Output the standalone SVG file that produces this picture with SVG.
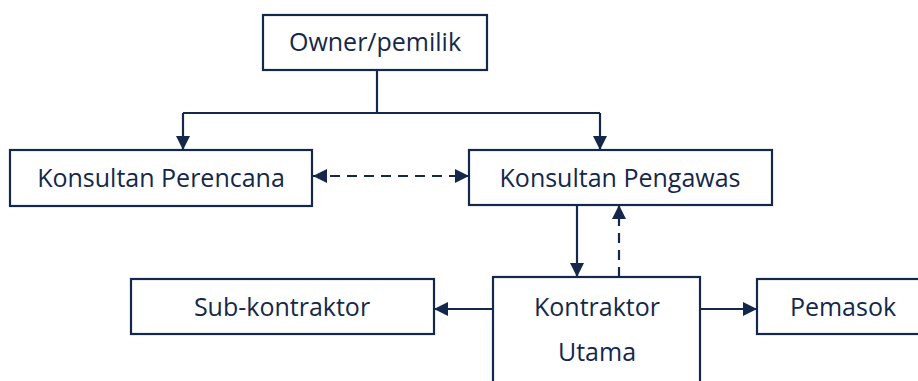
<svg xmlns="http://www.w3.org/2000/svg" width="918" height="381" viewBox="0 0 918 381">
<style>
.box{fill:#fff;stroke:#14284b;stroke-width:2.2}
.t{font-family:"Open Sans","Noto Sans",sans-serif;font-size:25px;fill:#14284b;text-anchor:middle}
.ln{stroke:#14284b;stroke-width:2.2;fill:none}
.ds{stroke-dasharray:10 7}
</style>
<defs>
<marker id="ah" viewBox="0 0 10 10" refX="10" refY="5" markerWidth="6.5" markerHeight="6.5" markerUnits="strokeWidth" orient="auto-start-reverse">
<path d="M0,0 L10,5 L0,10 Z" fill="#14284b"/>
</marker>
</defs>
<rect width="918" height="381" fill="#fff"/>
<g id="owner"><rect class="box" x="263" y="15" width="224" height="55"/><text class="t" x="375" y="51">Owner/pemilik</text></g>
<g id="perencana"><rect class="box" x="10" y="150" width="302" height="56"/><text class="t" x="161" y="187">Konsultan Perencana</text></g>
<g id="pengawas"><rect class="box" x="469" y="150" width="303" height="55"/><text class="t" x="620" y="187">Konsultan Pengawas</text></g>
<g id="subkon"><rect class="box" x="131" y="279" width="303" height="55"/><text class="t" x="282" y="316">Sub-kontraktor</text></g>
<g id="kontraktor"><rect class="box" x="493" y="277" width="207" height="110"/><text class="t" x="597" y="316">Kontraktor</text><text class="t" x="597" y="361">Utama</text></g>
<g id="pemasok"><rect class="box" x="757" y="279" width="170" height="55"/><text class="t" x="843" y="316">Pemasok</text></g>
<g id="connectors">
<path class="ln" d="M377,70 V113 M183,113 H600"/>
<path class="ln" d="M183,113 V150" marker-end="url(#ah)"/>
<path class="ln" d="M600,113 V150" marker-end="url(#ah)"/>
<path class="ln ds" d="M313,176 H469" marker-start="url(#ah)" marker-end="url(#ah)"/>
<path class="ln" d="M577,205 V277" marker-end="url(#ah)"/>
<path class="ln ds" d="M619,277 V205" marker-end="url(#ah)"/>
<path class="ln" d="M493,309 H434" marker-end="url(#ah)"/>
<path class="ln" d="M700,309 H757" marker-end="url(#ah)"/>
</g>
</svg>
